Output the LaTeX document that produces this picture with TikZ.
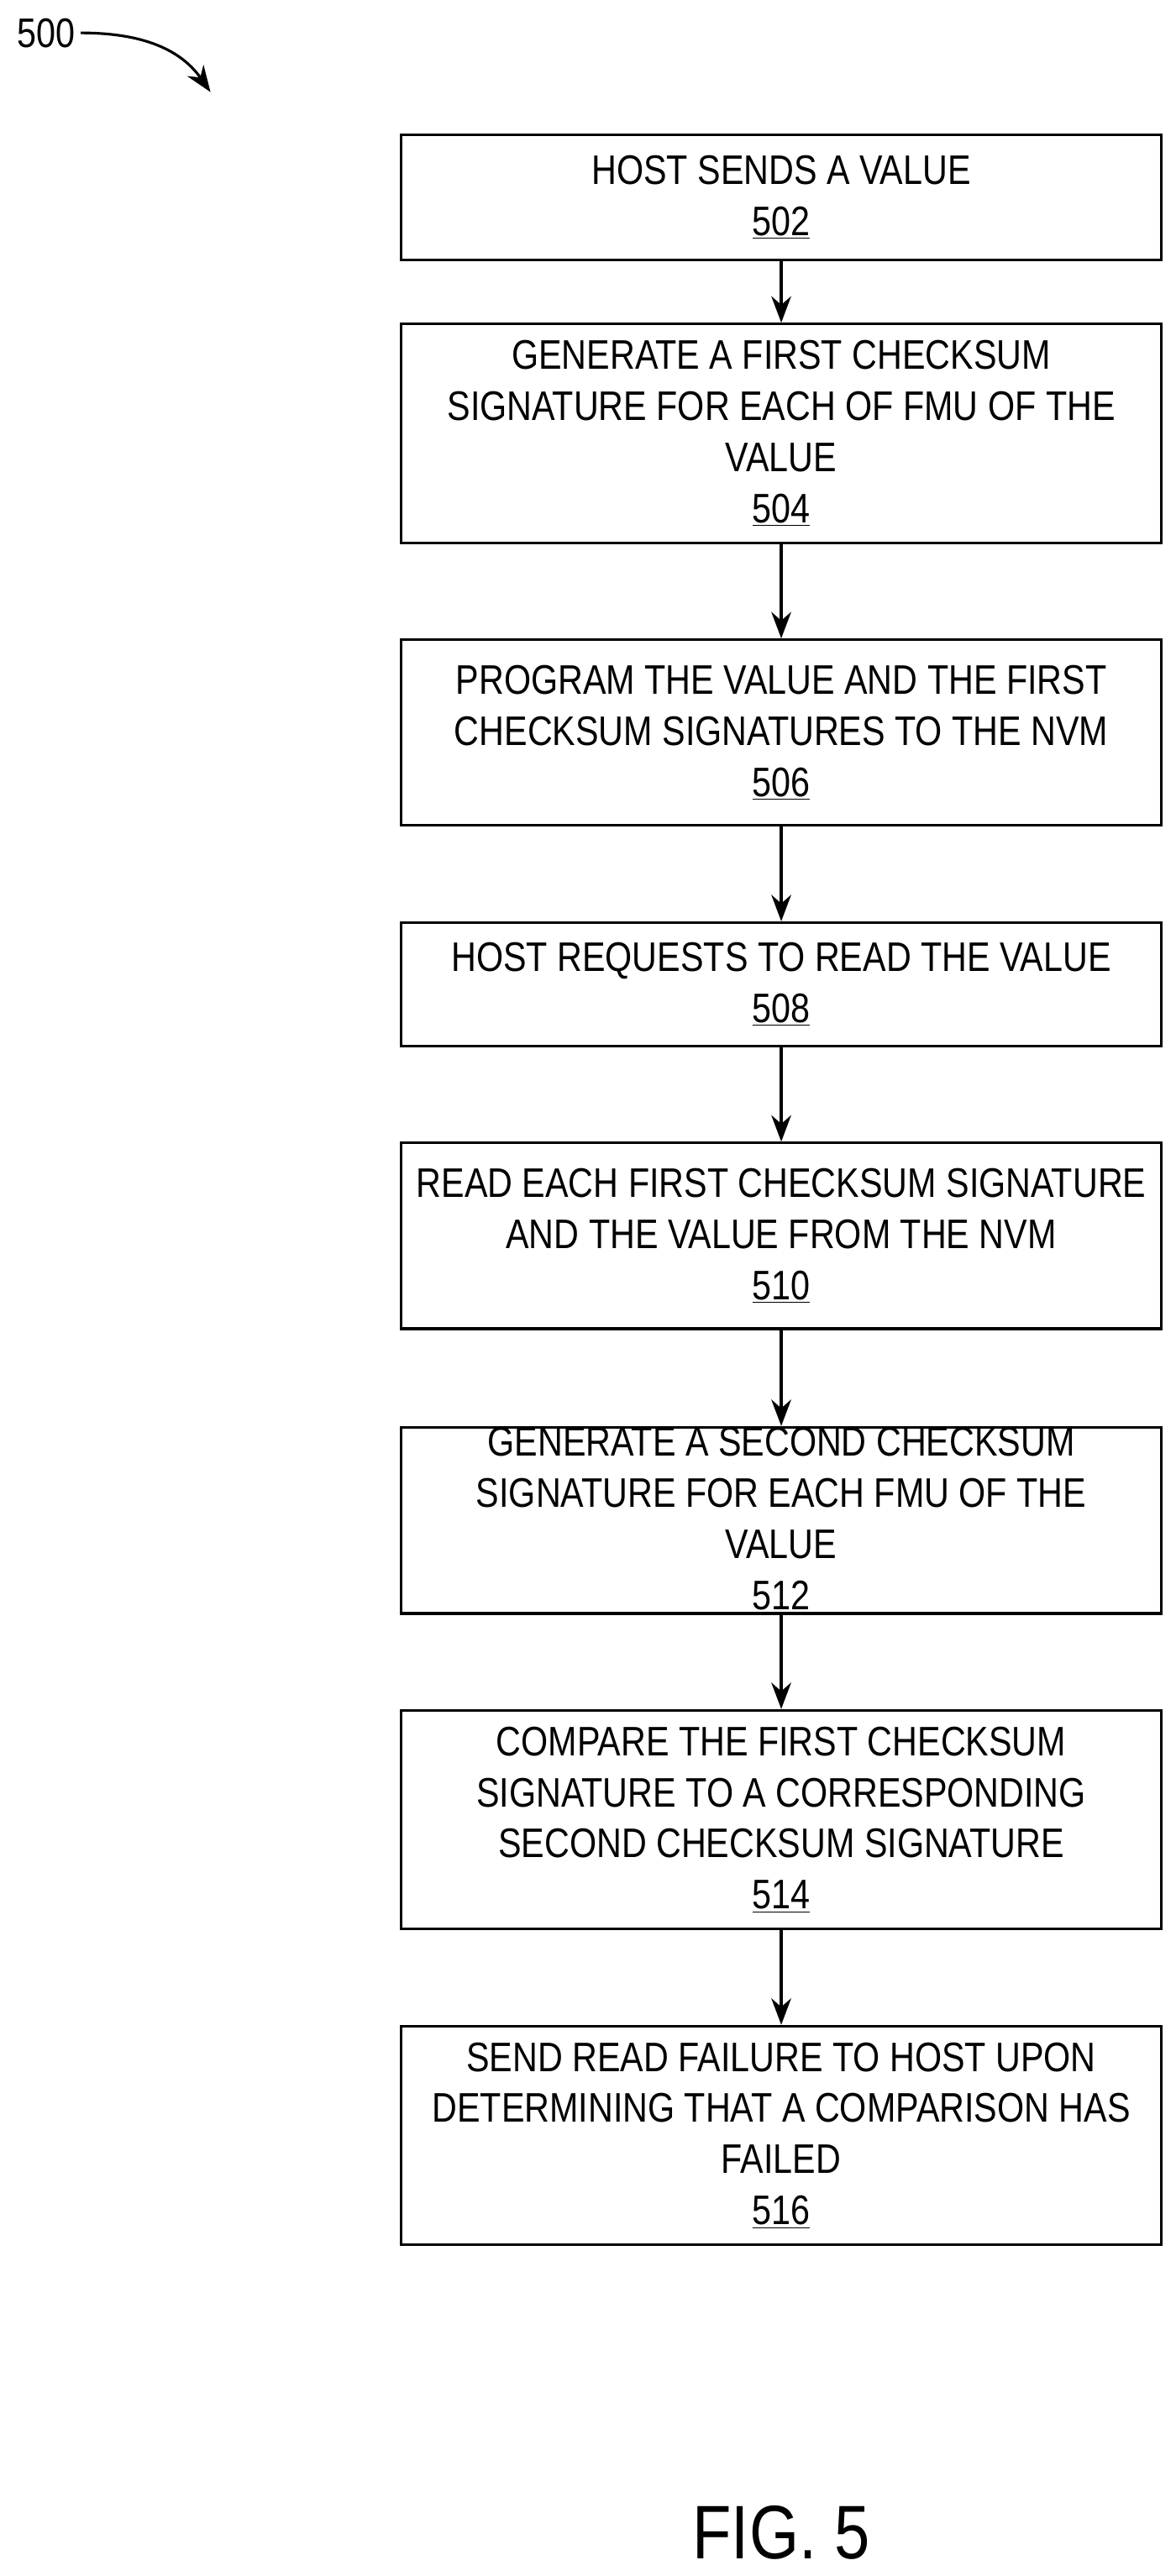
\documentclass[tikz,border=0pt]{standalone}
\usepackage{fontspec}
\setmainfont{Liberation Sans}[FakeStretch=0.84]
\usetikzlibrary{arrows.meta,positioning}

\begin{document}
\begin{tikzpicture}[x=0.035cm, y=-0.035cm]
    % Define styles
    \tikzset{
      block/.style={rectangle, draw, line width=1.6pt, align=center,
        minimum width=16.17cm, inner sep=0pt, font=\fontsize{25}{31}\selectfont},
      arrow/.style={line width=1.6pt, -{Stealth[length=16pt,width=12pt]}}
    }
    \useasboundingbox (0,0) rectangle (715,1566.4);

    % Label
    \node[font=\fontsize{25}{31}\selectfont] (lbl) at (28,20) {500};
    \coordinate (lblend) at (128,56);
    \draw[arrow] (lbl.east) to[out=0,in=125] (lblend);

    % Nodes
    \node[block, minimum height=2.66cm] (s502) at (475,120) {HOST SENDS A VALUE\\\underline{502}};
    \node[block, minimum height=4.655cm] (s504) at (475,263.5) {GENERATE A FIRST CHECKSUM\\SIGNATURE FOR EACH OF FMU OF THE\\VALUE\\\underline{504}};
    \node[block, minimum height=3.955cm] (s506) at (475,445.5) {PROGRAM THE VALUE AND THE FIRST\\CHECKSUM SIGNATURES TO THE NVM\\\underline{506}};
    \node[block, minimum height=2.625cm] (s508) at (475,598.5) {HOST REQUESTS TO READ THE VALUE\\\underline{508}};
    \node[block, minimum height=3.955cm] (s510) at (475,751.5) {READ EACH FIRST CHECKSUM SIGNATURE\\AND THE VALUE FROM THE NVM\\\underline{510}};
    \node[block, minimum height=3.955cm] (s512) at (475,924.5) {GENERATE A SECOND CHECKSUM\\SIGNATURE FOR EACH FMU OF THE\\VALUE\\\underline{512}};
    \node[block, minimum height=4.655cm] (s514) at (475,1106.5) {COMPARE THE FIRST CHECKSUM\\SIGNATURE TO A CORRESPONDING\\SECOND CHECKSUM SIGNATURE\\\underline{514}};
    \node[block, minimum height=4.655cm] (s516) at (475,1298.5) {SEND READ FAILURE TO HOST UPON\\DETERMINING THAT A COMPARISON HAS\\FAILED\\\underline{516}};
    \node[font=\fontsize{46}{54}\selectfont] (fig) at (475,1540) {FIG. 5};

    % Arrows
    \draw[arrow] (s502) -- (s504);
    \draw[arrow] (s504) -- (s506);
    \draw[arrow] (s506) -- (s508);
    \draw[arrow] (s508) -- (s510);
    \draw[arrow] (s510) -- (s512);
    \draw[arrow] (s512) -- (s514);
    \draw[arrow] (s514) -- (s516);
\end{tikzpicture}
\end{document}
